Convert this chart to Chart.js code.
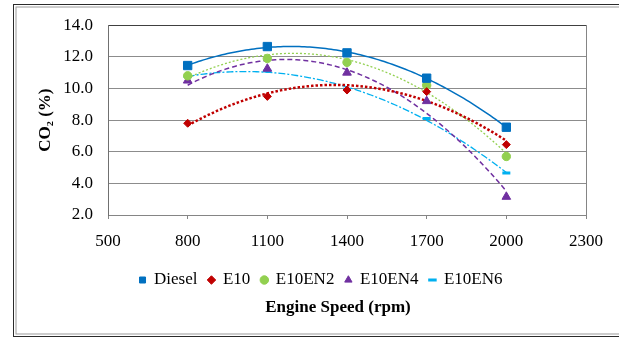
<!DOCTYPE html>
<html><head><meta charset="utf-8">
<script src="https://cdn.jsdelivr.net/npm/chart.js@4/dist/chart.umd.min.js"></script>
<style>
html,body{margin:0;padding:0;background:#fff;overflow:hidden;width:619px;height:337px;}
#frame{position:absolute;left:13px;top:4px;width:660px;height:333px;box-sizing:border-box;border:1.5px solid #2a2a2a;box-shadow:inset 0 0 0 1.5px #fff, inset 0 0 0 2.5px #9a9a9a;}
#wrap{position:absolute;left:0;top:0;width:619px;height:337px;}
</style></head><body>
<div id="frame"></div>
<div id="wrap"><canvas id="c"></canvas></div>
<script>
const speeds = [800, 1100, 1400, 1700, 2000];
const diesel = [11.45, 12.65, 12.25, 10.65, 7.55];
const e10    = [7.8, 9.5, 9.9, 9.8, 6.45];
const e10en2 = [10.8, 11.9, 11.65, 10.2, 5.7];
const e10en4 = [10.5, 11.25, 11.0, 9.2, 3.15];
const e10en6 = [10.75, 11.1, 9.95, 8.1, 4.65];
const seriesNames = ['Diesel', 'E10', 'E10EN2', 'E10EN4', 'E10EN6'];
const xTicks = [500, 800, 1100, 1400, 1700, 2000, 2300];
const yTicks = [2, 4, 6, 8, 10, 12, 14];

const FONT = '"Liberation Serif", "Times New Roman", serif';
const seriesValues = [diesel, e10, e10en2, e10en4, e10en6];
const colors = ['#0070C0', '#C00000', '#92D050', '#7030A0', '#00B0F0'];
const pStyles = ['rect', 'rectRot', 'circle', 'triangle', 'line'];
const pRadius = [5.9, 4, 4.2, 5, 4];
const pBorderW = [1, 1, 1, 1, 3];
const lineDash = [[], [2.5, 2], [2, 2], [5, 3], [7, 2, 2, 2]];
const lineW = [1.5, 2.5, 1.3, 1.5, 1.3];

// Excel-style 2nd order polynomial trendline (least squares) from the data
function quadFit(xs, ys) {
  const n = xs.length, m = xs.reduce((a, b) => a + b, 0) / n, sc = 300;
  const S = [0, 0, 0, 0, 0], T = [0, 0, 0];
  for (let i = 0; i < n; i++) {
    const t = (xs[i] - m) / sc;
    for (let k = 0; k < 5; k++) S[k] += Math.pow(t, k);
    for (let k = 0; k < 3; k++) T[k] += ys[i] * Math.pow(t, k);
  }
  const A = [[S[0], S[1], S[2], T[0]], [S[1], S[2], S[3], T[1]], [S[2], S[3], S[4], T[2]]];
  for (let i = 0; i < 3; i++) {
    for (let j = i + 1; j < 3; j++) {
      const f = A[j][i] / A[i][i];
      for (let k = i; k < 4; k++) A[j][k] -= f * A[i][k];
    }
  }
  const c = [0, 0, 0];
  for (let i = 2; i >= 0; i--) {
    let s = A[i][3];
    for (let k = i + 1; k < 3; k++) s -= A[i][k] * c[k];
    c[i] = s / A[i][i];
  }
  return x => { const t = (x - m) / sc; return c[0] + c[1] * t + c[2] * t * t; };
}

const datasets = [];
seriesNames.forEach((name, i) => {
  datasets.push({
    label: name,
    data: speeds.map((x, j) => ({x, y: seriesValues[i][j]})),
    showLine: false,
    pointStyle: pStyles[i],
    pointRadius: pRadius[i],
    pointHoverRadius: pRadius[i],
    pointBackgroundColor: colors[i],
    pointBorderColor: colors[i],
    pointBorderWidth: pBorderW[i],
    backgroundColor: colors[i],
    borderColor: colors[i]
  });
});
seriesNames.forEach((name, i) => {
  const f = quadFit(speeds, seriesValues[i]);
  const pts = [];
  for (let x = speeds[0]; x <= speeds[speeds.length - 1]; x += 10) pts.push({x, y: f(x)});
  datasets.push({
    label: name + ' trend',
    data: pts,
    showLine: true,
    pointRadius: 0,
    pointHoverRadius: 0,
    borderColor: colors[i],
    borderWidth: lineW[i],
    borderDash: lineDash[i],
    fill: false,
    tension: 0
  });
});

const xTitlePlugin = {
  id: 'xTitle',
  afterDraw(chart) {
    const ctx = chart.ctx;
    ctx.save();
    ctx.font = 'bold 17px ' + FONT;
    ctx.fillStyle = '#000';
    ctx.textAlign = 'center';
    ctx.textBaseline = 'middle';
    ctx.fillText('Engine Speed (rpm)', 338, 308);
    ctx.restore();
  }
};

new Chart(document.getElementById('c'), {
  type: 'scatter',
  data: {datasets},
  plugins: [xTitlePlugin],
  options: {
    responsive: true,
    maintainAspectRatio: false,
    animation: false,
    devicePixelRatio: 1,
    layout: {padding: {left: 23, right: 0, top: 24, bottom: 38.5}},
    plugins: {
      tooltip: {enabled: false},
      title: {display: false},
      legend: {
        display: true,
        position: 'bottom',
        labels: {
          usePointStyle: true,
          boxWidth: 6,
          boxHeight: 6,
          padding: 11,
          color: '#000',
          font: {family: FONT, size: 17},
          filter: item => item.datasetIndex < seriesNames.length
        }
      }
    },
    scales: {
      x: {
        type: 'linear', position: 'bottom', min: 500, max: 2300,
        afterBuildTicks: s => { s.ticks = xTicks.map(v => ({value: v})); },
        afterFit: s => { s.height = 45.5; },
        ticks: {padding: 12.5, color: '#000', font: {family: FONT, size: 17}, callback: v => String(v), maxRotation: 0},
        grid: {drawOnChartArea: false, drawTicks: true, tickLength: 4, color: '#858585'},
        border: {color: '#858585'}
      },
      y: {
        type: 'linear', position: 'left', min: 2, max: 14,
        afterBuildTicks: s => { s.ticks = yTicks.map(v => ({value: v})); },
        afterFit: s => { s.width = 85; },
        ticks: {padding: 15, color: '#000', font: {family: FONT, size: 17}, callback: v => Number(v).toFixed(1)},
        grid: {drawTicks: false, color: c => (c.tick && c.tick.value === 14 ? '#404040' : '#8c8c8c')},
        border: {color: '#707070'},
        title: {display: true, text: 'CO₂ (%)', color: '#000', font: {family: FONT, size: 17, weight: 'bold'}, padding: {top: 12, bottom: 0}}
      },
      y2: {
        type: 'linear', position: 'right', min: 2, max: 14,
        afterFit: s => { s.width = 33; },
        ticks: {display: false},
        grid: {display: false, drawTicks: false},
        border: {display: true, color: '#858585'}
      }
    }
  }
});
</script>
</body></html>
